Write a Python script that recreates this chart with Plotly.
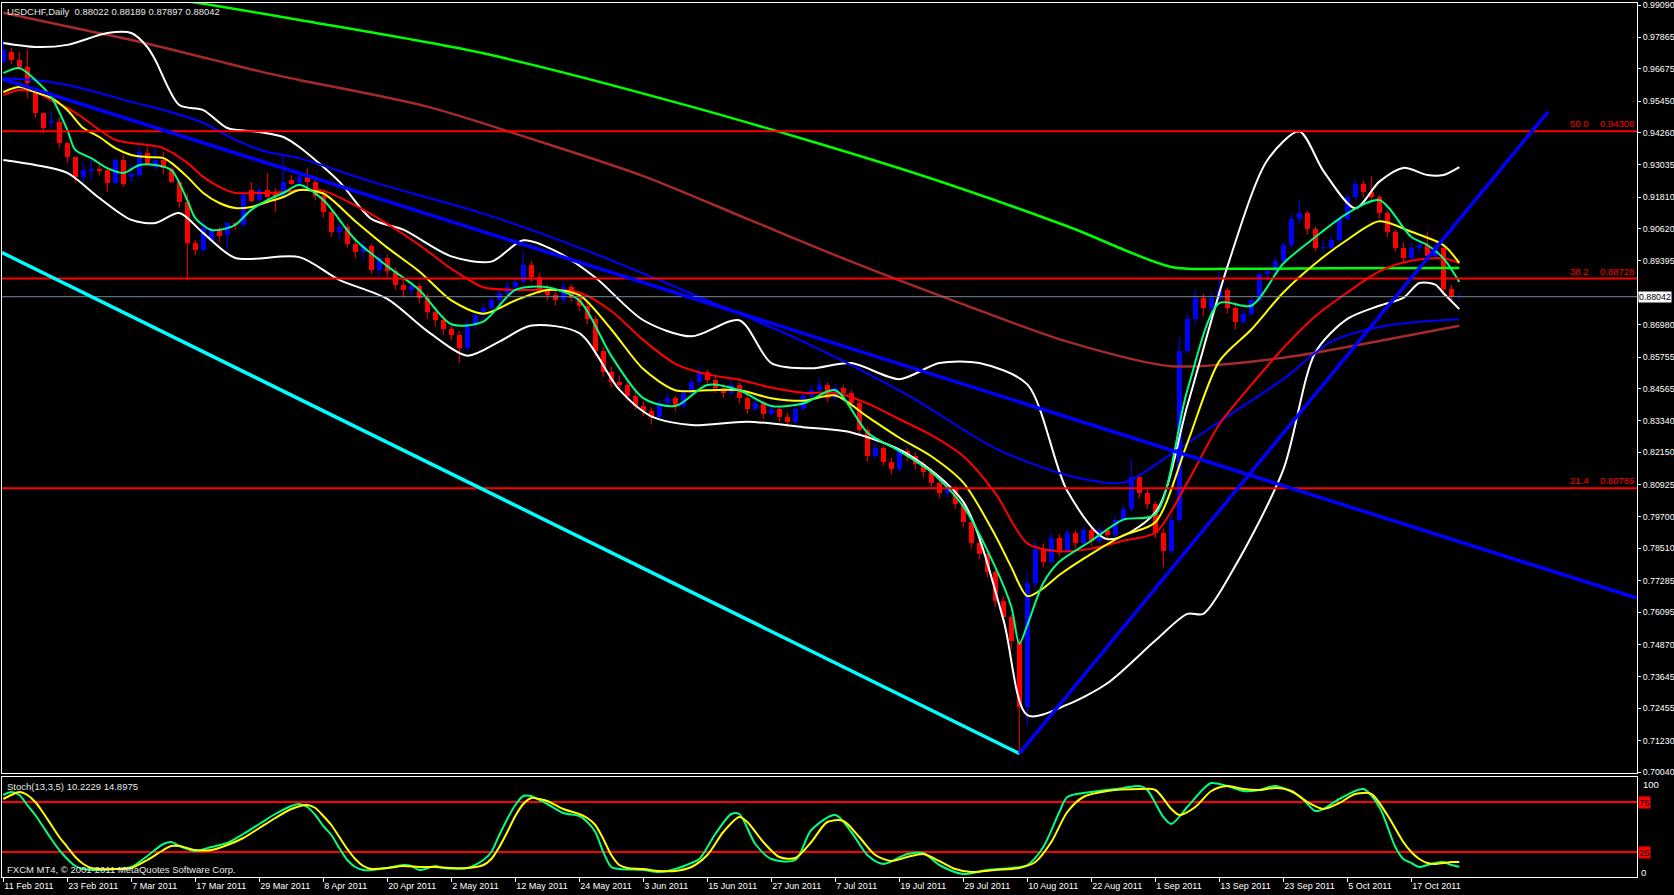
import plotly.graph_objects as go

# ---------------- data ----------------
date_labels = ["11 Feb 2011", "23 Feb 2011", "7 Mar 2011", "17 Mar 2011", "29 Mar 2011",
               "8 Apr 2011", "20 Apr 2011", "2 May 2011", "12 May 2011", "24 May 2011",
               "3 Jun 2011", "15 Jun 2011", "27 Jun 2011", "7 Jul 2011", "19 Jul 2011",
               "29 Jul 2011", "10 Aug 2011", "22 Aug 2011", "1 Sep 2011", "13 Sep 2011",
               "23 Sep 2011", "5 Oct 2011", "17 Oct 2011"]
date_label_bar = [0, 8, 16, 24, 32, 40, 48, 56, 64, 72, 80, 88, 96, 104, 112, 120, 128,
                  136, 144, 152, 160, 168, 176]

opens = [0.9693, 0.9732, 0.9701, 0.9674, 0.9576, 0.9500, 0.9462, 0.9466, 0.9386, 0.9333,
         0.9258, 0.9280, 0.9288, 0.9284, 0.9235, 0.9322, 0.9258, 0.9265, 0.9348, 0.9295,
         0.9322, 0.9288, 0.9239, 0.9163, 0.9007, 0.8981, 0.9015, 0.9057, 0.9038, 0.9083,
         0.9076, 0.9208, 0.9170, 0.9208, 0.9197, 0.9182, 0.9246, 0.9235, 0.9258, 0.9240,
         0.9185, 0.9125, 0.9050, 0.9070, 0.9005, 0.8975, 0.8995, 0.8905, 0.8950, 0.8900,
         0.8850, 0.8830, 0.8845, 0.8800, 0.8745, 0.8715, 0.8680, 0.8660, 0.8610, 0.8700,
         0.8735, 0.8760, 0.8790, 0.8820, 0.8840, 0.8860, 0.8925, 0.8880, 0.8830, 0.8810,
         0.8790, 0.8840, 0.8800, 0.8770, 0.8720, 0.8600, 0.8520, 0.8480, 0.8470, 0.8430,
         0.8390, 0.8370, 0.8350, 0.8400, 0.8420, 0.8390, 0.8440, 0.8480, 0.8520, 0.8490,
         0.8460, 0.8440, 0.8470, 0.8420, 0.8380, 0.8400, 0.8360, 0.8380, 0.8350, 0.8330,
         0.8380, 0.8430, 0.8450, 0.8470, 0.8420, 0.8460, 0.8440, 0.8400, 0.8300, 0.8200,
         0.8230, 0.8180, 0.8150, 0.8220, 0.8200, 0.8170, 0.8140, 0.8100, 0.8060, 0.8080,
         0.8020, 0.7950, 0.7870, 0.7830, 0.7760, 0.7650, 0.7590, 0.7500, 0.7250, 0.7720,
         0.7850, 0.7800, 0.7890, 0.7840, 0.7910, 0.7870, 0.7920, 0.7880, 0.7920, 0.7900,
         0.7960, 0.8000, 0.8120, 0.8060, 0.8020, 0.7910, 0.7840, 0.7960, 0.8600, 0.8720,
         0.8800, 0.8760, 0.8800, 0.8830, 0.8760, 0.8710, 0.8740, 0.8790, 0.8890, 0.8900,
         0.8940, 0.9000, 0.9100, 0.9120, 0.9060, 0.8990, 0.8990, 0.9020, 0.9100, 0.9180,
         0.9230, 0.9200, 0.9180, 0.9120, 0.9050, 0.8990, 0.8950, 0.8990, 0.9000, 0.8960,
         0.8990, 0.8833, 0.88022]
highs = [0.9776, 0.9746, 0.9731, 0.9741, 0.9587, 0.9500, 0.9504, 0.9481, 0.9390, 0.9333,
         0.9311, 0.9326, 0.9314, 0.9295, 0.9329, 0.9341, 0.9311, 0.9371, 0.9371, 0.9367,
         0.9352, 0.9295, 0.9246, 0.9197, 0.9019, 0.9095, 0.9064, 0.9068, 0.9087, 0.9087,
         0.9208, 0.9239, 0.9220, 0.9273, 0.9216, 0.9341, 0.9265, 0.9284, 0.9290, 0.9255,
         0.9200, 0.9135, 0.9090, 0.9080, 0.9030, 0.9015, 0.9005, 0.8970, 0.8965, 0.8915,
         0.8870, 0.8865, 0.8855, 0.8815, 0.8765, 0.8735, 0.8700, 0.8675, 0.8715, 0.8750,
         0.8775, 0.8805, 0.8835, 0.8860, 0.8880, 0.8975, 0.8940, 0.8895, 0.8850, 0.8825,
         0.8860, 0.8850, 0.8815, 0.8785, 0.8730, 0.8615, 0.8540, 0.8505, 0.8480, 0.8445,
         0.8410, 0.8385, 0.8415, 0.8440, 0.8430, 0.8455, 0.8495, 0.8540, 0.8530, 0.8505,
         0.8475, 0.8490, 0.8480, 0.8430, 0.8420, 0.8410, 0.8400, 0.8390, 0.8365, 0.8395,
         0.8445, 0.8470, 0.8495, 0.8480, 0.8475, 0.8470, 0.8450, 0.8410, 0.8310, 0.8250,
         0.8240, 0.8195, 0.8235, 0.8230, 0.8215, 0.8180, 0.8155, 0.8115, 0.8100, 0.8090,
         0.8030, 0.7965, 0.7885, 0.7845, 0.7770, 0.7670, 0.7600, 0.7510, 0.7760, 0.7880,
         0.7870, 0.7910, 0.7905, 0.7925, 0.7920, 0.7935, 0.7930, 0.7935, 0.7930, 0.7975,
         0.8015, 0.8190, 0.8130, 0.8075, 0.8030, 0.7925, 0.7975, 0.8650, 0.8740, 0.8830,
         0.8815, 0.8820, 0.8900, 0.8840, 0.8775, 0.8755, 0.8800, 0.8900, 0.8920, 0.8955,
         0.9010, 0.9115, 0.9170, 0.9130, 0.9070, 0.9020, 0.9035, 0.9110, 0.9190, 0.9250,
         0.9245, 0.9260, 0.9190, 0.9130, 0.9060, 0.9010, 0.9010, 0.9020, 0.9050, 0.9000,
         0.9000, 0.8850, 0.88189]
lows = [0.9689, 0.9686, 0.9663, 0.9556, 0.9481, 0.9424, 0.9443, 0.9367, 0.9310, 0.9235,
        0.9239, 0.9246, 0.9265, 0.9201, 0.9231, 0.9220, 0.9235, 0.9258, 0.9299, 0.9284,
        0.9269, 0.9235, 0.9140, 0.8867, 0.8962, 0.8973, 0.9011, 0.9011, 0.8981, 0.9057,
        0.9068, 0.9163, 0.9163, 0.9178, 0.9125, 0.9182, 0.9227, 0.9227, 0.9220, 0.9170,
        0.9105, 0.9030, 0.9020, 0.8990, 0.8950, 0.8945, 0.8890, 0.8885, 0.8880, 0.8830,
        0.8800, 0.8810, 0.8780, 0.8720, 0.8690, 0.8660, 0.8640, 0.8555, 0.8600, 0.8680,
        0.8715, 0.8740, 0.8770, 0.8800, 0.8815, 0.8850, 0.8860, 0.8815, 0.8790, 0.8770,
        0.8780, 0.8785, 0.8750, 0.8700, 0.8580, 0.8500, 0.8460, 0.8450, 0.8410, 0.8375,
        0.8350, 0.8320, 0.8340, 0.8385, 0.8370, 0.8380, 0.8430, 0.8465, 0.8470, 0.8440,
        0.8420, 0.8430, 0.8400, 0.8360, 0.8370, 0.8340, 0.8350, 0.8330, 0.8310, 0.8320,
        0.8370, 0.8420, 0.8440, 0.8405, 0.8410, 0.8425, 0.8385, 0.8280, 0.8180, 0.8190,
        0.8165, 0.8130, 0.8140, 0.8180, 0.8150, 0.8120, 0.8085, 0.8040, 0.8045, 0.8000,
        0.7930, 0.7850, 0.7810, 0.7740, 0.7630, 0.7570, 0.7470, 0.7070, 0.7180, 0.7700,
        0.7780, 0.7790, 0.7820, 0.7830, 0.7850, 0.7860, 0.7860, 0.7870, 0.7880, 0.7890,
        0.7950, 0.7990, 0.8040, 0.8000, 0.7890, 0.7780, 0.7830, 0.7950, 0.8590, 0.8700,
        0.8730, 0.8745, 0.8790, 0.8740, 0.8680, 0.8700, 0.8730, 0.8780, 0.8870, 0.8885,
        0.8930, 0.8990, 0.9080, 0.9040, 0.8975, 0.8970, 0.8980, 0.9010, 0.9090, 0.9170,
        0.9180, 0.9160, 0.9100, 0.9030, 0.8975, 0.8930, 0.8940, 0.8970, 0.8950, 0.8950,
        0.8820, 0.8790, 0.87897]
closes = [0.9739, 0.9701, 0.9674, 0.9614, 0.9500, 0.9443, 0.9470, 0.9386, 0.9333, 0.9258,
          0.9284, 0.9288, 0.9280, 0.9235, 0.9322, 0.9231, 0.9269, 0.9352, 0.9307, 0.9322,
          0.9292, 0.9239, 0.9163, 0.9007, 0.8981, 0.9068, 0.9057, 0.9034, 0.9083, 0.9076,
          0.9189, 0.9167, 0.9208, 0.9182, 0.9182, 0.9239, 0.9231, 0.9258, 0.9240, 0.9185,
          0.9125, 0.9050, 0.9070, 0.9005, 0.8975, 0.8995, 0.8905, 0.8950, 0.8900, 0.8850,
          0.8830, 0.8845, 0.8800, 0.8745, 0.8715, 0.8680, 0.8660, 0.8610, 0.8700, 0.8735,
          0.8760, 0.8790, 0.8820, 0.8840, 0.8860, 0.8925, 0.8880, 0.8830, 0.8810, 0.8790,
          0.8840, 0.8800, 0.8770, 0.8720, 0.8600, 0.8520, 0.8480, 0.8470, 0.8430, 0.8390,
          0.8370, 0.8350, 0.8400, 0.8420, 0.8390, 0.8440, 0.8480, 0.8520, 0.8490, 0.8460,
          0.8440, 0.8470, 0.8420, 0.8380, 0.8400, 0.8360, 0.8380, 0.8350, 0.8330, 0.8380,
          0.8430, 0.8450, 0.8470, 0.8420, 0.8460, 0.8440, 0.8400, 0.8300, 0.8200, 0.8230,
          0.8180, 0.8150, 0.8220, 0.8200, 0.8170, 0.8140, 0.8100, 0.8060, 0.8080, 0.8020,
          0.7950, 0.7870, 0.7830, 0.7760, 0.7650, 0.7590, 0.7500, 0.7250, 0.7720, 0.7850,
          0.7800, 0.7890, 0.7840, 0.7910, 0.7870, 0.7920, 0.7880, 0.7920, 0.7900, 0.7960,
          0.8000, 0.8120, 0.8060, 0.8020, 0.7910, 0.7840, 0.7960, 0.8600, 0.8720, 0.8800,
          0.8760, 0.8800, 0.8830, 0.8760, 0.8710, 0.8740, 0.8790, 0.8890, 0.8900, 0.8940,
          0.9000, 0.9100, 0.9120, 0.9060, 0.8990, 0.8990, 0.9020, 0.9100, 0.9180, 0.9230,
          0.9200, 0.9180, 0.9120, 0.9050, 0.8990, 0.8950, 0.8990, 0.9000, 0.8960, 0.8990,
          0.8833, 0.8802, 0.88042]

# indicator lines, read at sample bars (bar index, price)
ma_fast_i = [0, 2, 4, 6, 8, 9, 11, 13, 15, 17, 19, 21, 23, 24, 26, 28, 29, 31, 33, 35, 37,
             40, 44, 48, 52, 56, 60, 64, 68, 72, 76, 80, 84, 88, 92, 96, 100, 104, 108, 112,
             116, 120, 124, 126, 127, 128, 130, 132, 136, 140, 144, 148, 152, 156, 160, 164,
             168, 172, 176, 178, 180, 182]
ma_fast_p = [0.9651, 0.9670, 0.9625, 0.9560, 0.9436, 0.9360, 0.9329, 0.9291, 0.9273, 0.9303,
             0.9303, 0.9284, 0.9170, 0.9102, 0.9057, 0.9064, 0.9076, 0.9133, 0.9170, 0.9197,
             0.9227, 0.9170, 0.9020, 0.8920, 0.8830, 0.8700, 0.8710, 0.8830, 0.8840, 0.8790,
             0.8580, 0.8420, 0.8390, 0.8470, 0.8450, 0.8390, 0.8400, 0.8450, 0.8290, 0.8220,
             0.8140, 0.8010, 0.7780, 0.7630, 0.7490, 0.7560, 0.7720, 0.7800, 0.7880, 0.7960,
             0.7980, 0.8450, 0.8780, 0.8770, 0.8930, 0.9030, 0.9120, 0.9170, 0.9030, 0.9000,
             0.8950, 0.8860]
ma_mid_i = [0, 2, 4, 6, 8, 10, 12, 14, 16, 18, 20, 21, 23, 25, 27, 29, 31, 33, 35, 37,
            40, 44, 48, 52, 56, 60, 64, 68, 72, 76, 80, 84, 88, 92, 96, 100, 104, 108, 112,
            116, 120, 124, 126, 128, 130, 132, 136, 140, 144, 148, 152, 156, 160, 164, 168,
            172, 176, 180, 182]
ma_mid_p = [0.9579, 0.9598, 0.9579, 0.9557, 0.9511, 0.9443, 0.9409, 0.9367, 0.9341, 0.9333,
            0.9329, 0.9311, 0.9258, 0.9197, 0.9159, 0.9140, 0.9144, 0.9163, 0.9182, 0.9208,
            0.9195, 0.9090, 0.8990, 0.8900, 0.8790, 0.8740, 0.8790, 0.8830, 0.8810, 0.8680,
            0.8530, 0.8450, 0.8450, 0.8450, 0.8420, 0.8410, 0.8430, 0.8350, 0.8270, 0.8200,
            0.8100, 0.7900, 0.7780, 0.7670, 0.7700, 0.7750, 0.7830, 0.7900, 0.7950, 0.8250,
            0.8560, 0.8680, 0.8820, 0.8930, 0.9020, 0.9090, 0.9050, 0.9000, 0.8932]
ma_slow_i = [0, 2, 4, 6, 8, 10, 12, 14, 16, 18, 20, 23, 25, 27, 29, 31, 33, 35, 37,
             40, 44, 48, 52, 56, 60, 64, 68, 72, 76, 80, 84, 88, 92, 96, 100, 104, 108, 112,
             116, 120, 124, 128, 132, 136, 140, 144, 148, 152, 156, 160, 164, 168, 172, 176,
             180, 182]
ma_slow_p = [0.9568, 0.9587, 0.9579, 0.9549, 0.9519, 0.9481, 0.9436, 0.9398, 0.9386, 0.9379,
             0.9367, 0.9311, 0.9258, 0.9220, 0.9197, 0.9197, 0.9197, 0.9201, 0.9208,
             0.9205, 0.9150, 0.9080, 0.9000, 0.8910, 0.8840, 0.8830, 0.8830, 0.8820, 0.8750,
             0.8640, 0.8550, 0.8510, 0.8490, 0.8460, 0.8440, 0.8440, 0.8400, 0.8340, 0.8280,
             0.8200, 0.8060, 0.7870, 0.7840, 0.7850, 0.7880, 0.7910, 0.8100, 0.8320, 0.8470,
             0.8610, 0.8730, 0.8820, 0.8900, 0.8940, 0.8950, 0.8932]
ma_blue_i = [0, 4, 8, 12, 16, 20, 25, 29, 33, 37, 46, 60, 73, 86, 100, 113, 124, 133, 140,
             146, 153, 160, 166, 173, 182]
ma_blue_p = [0.9632, 0.9625, 0.9606, 0.9576, 0.9542, 0.9511, 0.9462, 0.9398, 0.9352, 0.9329,
             0.9240, 0.9119, 0.8978, 0.8816, 0.8634, 0.8432, 0.8230, 0.8128, 0.8100, 0.8209,
             0.8351, 0.8492, 0.8634, 0.8695, 0.8719]
ma_brown_i = [0, 12, 17, 26, 33, 37, 53, 66, 80, 93, 106, 120, 133, 146, 160, 173, 182]
ma_brown_p = [0.9880, 0.9802, 0.9770, 0.9703, 0.9651, 0.9625, 0.9524, 0.9402, 0.9261, 0.9099,
              0.8937, 0.8775, 0.8634, 0.8541, 0.8573, 0.8642, 0.8694]
ma_green_i = [18, 26, 37, 60, 86, 113, 133, 146, 153, 166, 182]
ma_green_p = [0.9945, 0.9909, 0.9852, 0.9726, 0.9524, 0.9281, 0.9071, 0.8917, 0.8910, 0.8912,
              0.8913]
bb_up_i = [0, 4, 8, 13, 16, 18, 19, 22, 25, 28, 32, 35, 37, 42, 46, 50, 56, 61, 65, 69, 74,
           80, 86, 92, 96, 101, 106, 112, 117, 122, 128, 133, 138, 144, 148, 153, 158, 162,
           165, 169, 172, 175, 178, 180, 182]
bb_up_p = [0.9765, 0.9750, 0.9758, 0.9803, 0.9803, 0.9750, 0.9701, 0.9530, 0.9511, 0.9443,
           0.9428, 0.9409, 0.9371, 0.9240, 0.9099, 0.9058, 0.8957, 0.8937, 0.9018, 0.8978,
           0.8877, 0.8715, 0.8654, 0.8715, 0.8553, 0.8533, 0.8553, 0.8492, 0.8553, 0.8553,
           0.8472, 0.8068, 0.7886, 0.7987, 0.8391, 0.8917, 0.9321, 0.9430, 0.9281, 0.9139,
           0.9240, 0.9292, 0.9265, 0.9265, 0.9295]
bb_lo_i = [0, 4, 8, 12, 16, 19, 22, 25, 29, 37, 42, 48, 53, 58, 62, 66, 72, 77, 81, 86, 93,
           100, 106, 113, 120, 125, 128, 133, 138, 144, 148, 150, 154, 160, 164, 168, 172, 175,
           177, 179, 180, 182]
bb_lo_p = [0.9322, 0.9303, 0.9273, 0.9178, 0.9095, 0.9083, 0.9121, 0.9045, 0.8951, 0.8954,
           0.8868, 0.8796, 0.8674, 0.8581, 0.8634, 0.8695, 0.8666, 0.8452, 0.8351, 0.8318,
           0.8331, 0.8310, 0.8290, 0.8209, 0.8027, 0.7582, 0.7219, 0.7259, 0.7340, 0.7502,
           0.7603, 0.7603, 0.7785, 0.8149, 0.8593, 0.8720, 0.8770, 0.8800, 0.8856, 0.8850,
           0.8818, 0.8757]

# drawn objects (bar index, price)
trend_desc_i = [-0.16, 204.2]
trend_desc_p = [0.9629, 0.7663]
trend_cyan_i = [-0.16, 127.0]
trend_cyan_p = [0.8971, 0.7074]
trend_asc_i = [127.0, 193.1]
trend_asc_p = [0.7074, 0.9505]
fib_levels = [0.94308, 0.88728, 0.80785]
fib_pct = ["50.0", "38.2", "21.4"]
last_price = 0.88042

stoch_k_i = [0, 1, 2, 3, 4, 5, 6, 7, 8, 9, 10, 12, 14, 16, 18, 20, 21, 22, 24, 26, 28, 30, 32,
             34, 36, 37, 38, 39, 40, 41, 42, 43, 44, 45, 46, 48, 50, 51, 52, 54, 55, 58, 60, 61,
             62, 63, 64, 65, 66, 67, 68, 70, 72, 73, 74, 75, 76, 77, 80, 82, 84, 86, 87, 89, 91,
             92, 94, 96, 99, 101, 104, 106, 108, 110, 113, 115, 117, 120, 123, 126, 128, 130,
             132, 133, 136, 140, 142, 143, 145, 146, 148, 150, 151, 153, 155, 157, 159, 162,
             164, 165, 167, 170, 172, 174, 175, 176, 177, 178, 179, 180, 181, 182]
stoch_k_v = [82, 85, 82, 72, 62, 50, 38, 27, 18, 11, 8, 7, 8, 10, 21, 33, 35, 31, 26, 30, 34,
             43, 53, 63, 71, 73, 70, 62, 51, 42, 29, 17, 10, 7, 7, 9, 12, 11, 7, 11, 9, 9, 17,
             25, 42, 58, 72, 81, 81, 77, 73, 64, 61, 55, 45, 25, 10, 8, 7, 5, 8, 14, 18, 43, 63,
             63, 33, 18, 17, 47, 62, 45, 22, 13, 23, 24, 12, 3, 7, 9, 12, 30, 65, 80, 85, 89,
             91, 87, 60, 53, 70, 88, 94, 91, 86, 87, 91, 81, 66, 68, 78, 88, 70, 30, 18, 14, 10,
             12, 14, 15, 12, 10.2229]
stoch_d_i = [0, 1, 2, 3, 4, 5, 6, 7, 8, 9, 10, 11, 12, 14, 16, 18, 20, 21, 22, 24, 26, 28, 30,
             32, 34, 36, 38, 39, 40, 41, 42, 43, 44, 45, 46, 48, 50, 52, 54, 56, 58, 60, 61, 62,
             63, 64, 65, 66, 67, 68, 70, 72, 73, 74, 75, 76, 77, 78, 80, 82, 84, 86, 88, 90, 92,
             93, 95, 97, 99, 101, 103, 105, 107, 109, 111, 113, 115, 117, 119, 121, 124, 127,
             129, 131, 133, 135, 138, 142, 144, 146, 147, 149, 151, 153, 155, 157, 159, 161,
             163, 165, 167, 169, 171, 173, 175, 176, 177, 178, 179, 180, 181, 182]
stoch_d_v = [78, 82, 85, 82, 75, 64, 52, 40, 30, 20, 13, 9, 8, 8, 9, 17, 27, 31, 31, 27, 27,
             32, 39, 49, 59, 68, 72, 69, 61, 52, 40, 28, 18, 11, 8, 9, 11, 10, 10, 9, 9, 12, 18,
             30, 45, 61, 73, 79, 78, 76, 68, 63, 59, 52, 38, 22, 12, 9, 8, 6, 6, 10, 22, 45, 60,
             55, 35, 20, 19, 35, 55, 56, 40, 22, 16, 20, 23, 16, 8, 5, 7, 9, 15, 35, 65, 80, 86,
             88, 87, 68, 62, 70, 86, 91, 88, 87, 89, 86, 75, 68, 74, 83, 83, 62, 35, 25, 18, 14,
             13, 14, 15, 14.8975]

price_ticks = [0.99090, 0.97865, 0.96675, 0.95450, 0.94260, 0.93035, 0.91810, 0.90620,
               0.89395, 0.88205, 0.86980, 0.85755, 0.84565, 0.83340, 0.82150, 0.80925,
               0.79700, 0.78510, 0.77285, 0.76095, 0.74870, 0.73645, 0.72455, 0.71230,
               0.70040]
hidden_tick = 0.88205   # covered by the last-price box in the reference

# ---------------- figure ----------------
W, H = 1674, 895
FONT = "Liberation Sans"
X0, X1 = -0.1625, 204.21
Y0, Y1 = 0.700021, 0.991658

bars = list(range(len(closes)))
up_col, dn_col = "#0000ff", "#ff0000"
col = [up_col if c >= o else dn_col for o, c in zip(opens, closes)]
base = [min(o, c) for o, c in zip(opens, closes)]
height = [max(abs(c - o), 0.00018) for o, c in zip(opens, closes)]

fig = go.Figure()


def wick_trace(color):
    xs, ys = [], []
    for i, (o, h, l, c) in enumerate(zip(opens, highs, lows, closes)):
        if (c >= o) == (color == up_col):
            xs += [i, i, None]
            ys += [l, h, None]
    return go.Scatter(x=xs, y=ys, mode="lines", line=dict(color=color, width=1),
                      hoverinfo="skip", showlegend=False)


fig.add_trace(wick_trace(up_col))
fig.add_trace(wick_trace(dn_col))
fig.add_trace(go.Bar(x=bars, y=height, base=base, width=0.6, marker=dict(color=col, line=dict(width=0)),
                     showlegend=False, hoverinfo="skip"))


def line(xi, yp, color, width, shape="spline", xa="x", ya="y"):
    fig.add_trace(go.Scatter(x=xi, y=yp, mode="lines", xaxis=xa, yaxis=ya,
                             line=dict(color=color, width=width, shape=shape, smoothing=0.8),
                             showlegend=False, hoverinfo="skip"))


line(ma_green_i, ma_green_p, "#00ff00", 2.5)
line(ma_brown_i, ma_brown_p, "#a52a2a", 2.5)
line(bb_up_i, bb_up_p, "#ffffff", 2)
line(bb_lo_i, bb_lo_p, "#ffffff", 2)
line(ma_blue_i, ma_blue_p, "#0000ff", 2)
line(ma_slow_i, ma_slow_p, "#ff0000", 2)
line(ma_mid_i, ma_mid_p, "#ffff00", 2)
line(ma_fast_i, ma_fast_p, "#00ff7f", 2)

# horizontal levels
for lv in fib_levels:
    line([X0, X1], [lv, lv], "#ff0000", 2, shape="linear")
line([X0, X1], [last_price, last_price], "#778899", 1, shape="linear")

# trend lines
line(trend_cyan_i, trend_cyan_p, "#00ffff", 3.5, shape="linear")
line(trend_desc_i, trend_desc_p, "#0000ff", 3.5, shape="linear")
line(trend_asc_i, trend_asc_p, "#0000ff", 3.5, shape="linear")

# stochastic
for lv in (75, 25):
    line([X0, X1], [lv, lv], "#ff0000", 2, shape="linear", xa="x2", ya="y2")
line(stoch_k_i, stoch_k_v, "#00ff7f", 2, xa="x2", ya="y2")
line(stoch_d_i, stoch_d_v, "#ffff00", 2, xa="x2", ya="y2")

xl = 2 / W
xr = 1637 / W
main_dom = [1 - 773 / H, 1 - 3 / H]
st_dom = [1 - 877 / H, 1 - 777 / H]

price_font = dict(family=FONT, size=8.8, color="#ffffff")
date_font = dict(family=FONT, size=9, color="#ffffff")
TXT = 9.5
fig.update_layout(
    width=W, height=H, margin=dict(l=0, r=0, t=0, b=0, autoexpand=False),
    paper_bgcolor="#000000", plot_bgcolor="#000000",
    barmode="overlay", bargap=0, showlegend=False,
    font=dict(family=FONT, size=TXT, color="#ffffff"),
    xaxis=dict(domain=[xl, xr], range=[X0, X1], anchor="y", showgrid=False, zeroline=False,
               showticklabels=False, ticks="", showline=True, mirror=True, automargin=False,
               linecolor="#ffffff", linewidth=1),
    yaxis=dict(domain=main_dom, range=[Y0, Y1], anchor="x", side="right", showgrid=False,
               zeroline=False, tickvals=price_ticks,
               ticktext=["" if v == hidden_tick else f"{v:.5f}" for v in price_ticks],
               ticks="outside", ticklen=3, tickcolor="#ffffff", tickfont=price_font,
               automargin=False,
               showline=True, mirror=True, linecolor="#ffffff", linewidth=1),
    xaxis2=dict(domain=[xl, xr], range=[X0, X1], anchor="y2", showgrid=False, zeroline=False,
                tickvals=date_label_bar, ticktext=date_labels, ticks="outside", ticklen=4,
                tickangle=0, tickcolor="#ffffff", tickfont=date_font,
                ticklabelposition="outside right", automargin=False,
                showline=True, mirror=True, linecolor="#ffffff", linewidth=1),
    yaxis2=dict(domain=st_dom, range=[0, 100], anchor="x2", side="right", showgrid=False,
                zeroline=False, showticklabels=False, ticks="", showline=True, mirror=True,
                automargin=False,
                linecolor="#ffffff", linewidth=1),
)

ann = []
ann.append(dict(xref="paper", yref="paper", x=5 / W, y=1 - 11 / H, xanchor="left", yanchor="middle",
                text="USDCHF,Daily  0.88022 0.88189 0.87897 0.88042", showarrow=False,
                font=dict(family=FONT, size=TXT, color="#e8e8e8")))
ann.append(dict(xref="paper", yref="paper", x=5 / W, y=1 - 786 / H, xanchor="left", yanchor="middle",
                text="Stoch(13,3,5) 10.2229 14.8975", showarrow=False,
                font=dict(family=FONT, size=TXT, color="#e8e8e8")))
ann.append(dict(xref="paper", yref="paper", x=5 / W, y=1 - 869 / H, xanchor="left", yanchor="middle",
                text="FXCM MT4, © 2001-2011 MetaQuotes Software Corp.", showarrow=False,
                font=dict(family=FONT, size=TXT, color="#e8e8e8")))
for lv, pct in zip(fib_levels, fib_pct):
    ann.append(dict(xref="paper", yref="y", x=1591 / W, y=lv, xanchor="right", yanchor="bottom",
                    text=pct, showarrow=False, font=dict(family=FONT, size=TXT, color="#ff0000")))
    ann.append(dict(xref="paper", yref="y", x=1636 / W, y=lv, xanchor="right", yanchor="bottom",
                    text=f"{lv:.5f}", showarrow=False, font=dict(family=FONT, size=TXT, color="#ff0000")))
ann.append(dict(xref="paper", yref="y", x=1638 / W, y=last_price, xanchor="left", yanchor="middle",
                text=f"{last_price:.5f}", showarrow=False, bgcolor="#ffffff", borderpad=0,
                font=dict(family=FONT, size=8.8, color="#000000")))
ann.append(dict(xref="paper", yref="y2", x=1641 / W, y=93, xanchor="left", yanchor="middle",
                text="100", showarrow=False, font=dict(family=FONT, size=TXT, color="#ffffff")))
ann.append(dict(xref="paper", yref="y2", x=1639 / W, y=5, xanchor="left", yanchor="middle",
                text="0", showarrow=False, font=dict(family=FONT, size=TXT, color="#ffffff")))
for lv in (75, 25):
    ann.append(dict(xref="paper", yref="y2", x=1638 / W, y=lv, xanchor="left", yanchor="middle",
                    text=str(lv), showarrow=False, bgcolor="#ff0000", borderpad=0,
                    font=dict(family=FONT, size=TXT, color="#000000")))
fig.update_layout(annotations=ann)

fig.write_html("out.html", config={"displayModeBar": False, "staticPlot": True},
               post_script="document.body.style.margin='0';document.body.style.overflow='hidden';")
